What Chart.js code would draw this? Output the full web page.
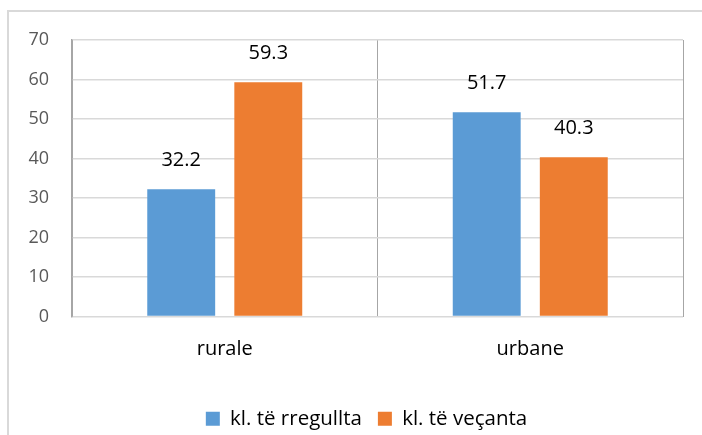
<!DOCTYPE html>
<html>
<head>
<meta charset="utf-8">
<script src="https://cdn.jsdelivr.net/npm/chart.js@4.4.1/dist/chart.umd.min.js"></script>
<style>
  html, body { margin: 0; padding: 0; background: #fff; }
  #wrap { position: relative; width: 702px; height: 435px; }
  #frame { position: absolute; left: 7px; top: 10px; width: 720px; height: 450px;
           border-left: 2px solid #d9d9d9; border-top: 2px solid #d9d9d9; }
  canvas { position: absolute; left: 0; top: 0; }
</style>
</head>
<body>
<div id="wrap">
  <div id="frame"></div>
  <canvas id="chart" width="702" height="435"></canvas>
</div>
<script>
// categories and series
var categories = ["rurale", "urbane"];
var regular = [32.2, 51.7];   // kl. të rregullta
var special = [59.3, 40.3];   // kl. të veçanta
var yTicks = [0, 70, 10];     // min, max, step

var FONT = "'Open Sans', 'Liberation Sans', sans-serif";

// draw value labels above every bar
var valueLabels = {
  id: "valueLabels",
  afterLayout: function (chart) {
    // legend sits a bit right of centre in the original
    chart.legend.left += 25;
    chart.legend.right += 25;
  },
  afterDatasetsDraw: function (chart) {
    var ctx = chart.ctx;
    ctx.save();
    ctx.font = "20px " + FONT;
    ctx.fillStyle = "#000";
    ctx.textAlign = "center";
    ctx.textBaseline = "middle";
    chart.data.datasets.forEach(function (ds, i) {
      chart.getDatasetMeta(i).data.forEach(function (bar, j) {
        ctx.fillText(ds.data[j].toFixed(1), bar.x, bar.y - 29);
      });
    });
    ctx.restore();
  }
};

var ctx = document.getElementById("chart").getContext("2d");

var myChart = new Chart(ctx, {
  type: "bar",
  data: {
    labels: categories,
    datasets: [
      {
        label: "kl. të rregullta",
        data: regular,
        backgroundColor: "#5B9BD5",
        categoryPercentage: 0.57,
        barPercentage: 0.78,
      },
      {
        label: "kl. të veçanta",
        data: special,
        backgroundColor: "#ED7D31",
        categoryPercentage: 0.57,
        barPercentage: 0.78,
      },
    ],
  },
  options: {
    responsive: false,
    animation: false,
    layout: { padding: { left: 0, top: 40, right: 19, bottom: -4 } },
    plugins: {
      legend: {
        position: "bottom",
        labels: {
          font: { family: FONT, size: 20.5 },
          color: "#000",
          boxWidth: 14,
          boxHeight: 14,
          padding: 16,
        },
      },
      tooltip: { enabled: false },
    },
    scales: {
      x: {
        grid: { display: true, offset: true, color: "#a6a6a6", drawTicks: false },
        border: { display: false },
        ticks: { font: { family: FONT, size: 20 }, color: "#000", padding: 21 },
        afterFit: function (scale) { scale.height = 76; },
      },
      y: {
        min: yTicks[0],
        max: yTicks[1],
        ticks: {
          stepSize: yTicks[2],
          font: { family: FONT, size: 18 },
          color: "#595959",
          padding: 23,
        },
        grid: { color: "#d9d9d9", lineWidth: 1.5, drawTicks: false },
        border: { display: true, color: "#a6a6a6", width: 1.5 },
        afterFit: function (scale) { scale.width = 72; },
      },
    },
  },
  plugins: [valueLabels],
});
</script>
</body>
</html>
